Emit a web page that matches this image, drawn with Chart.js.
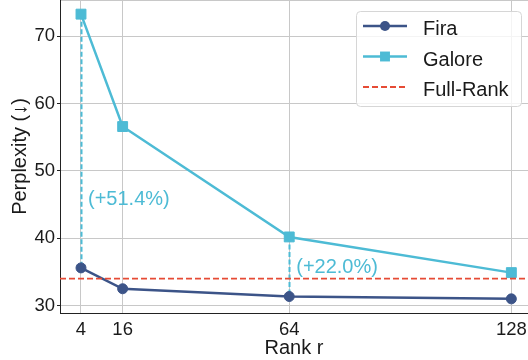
<!DOCTYPE html>
<html>
<head>
<meta charset="utf-8">
<script src="https://cdn.jsdelivr.net/npm/chart.js@4"></script>
<style>
  html, body { margin: 0; padding: 0; background: #fff; overflow: hidden; }
</style>
</head>
<body>
<canvas id="chart" width="528" height="360"></canvas>
<script>
// perplexity vs. rank
const ranks = [4, 16, 64, 128];
const firaPpl = [35.6, 32.5, 31.35, 31.0];
const galorePpl = [73.3, 56.6, 40.2, 34.9];
const fullRankPpl = 34.0;
const yTicks = [30, 40, 50, 60, 70];
// ranks where the Galore-vs-Fira gap gets a label, and the height of that label
const gapRanks = [4, 64];
const gapLabelY = [45.7, 35.7];

const FONT = '"Liberation Sans", Arial, sans-serif';
const C_FIRA = '#3C5488';
const C_GALORE = '#4DBBD5';
const C_FULL = '#E64B35';
const INK = '#1a1a1a';

const toXY = vals => ranks.map((r, i) => ({ x: r, y: vals[i] }));

const refLines = {
  id: 'refLines',
  beforeDatasetsDraw(chart) {
    const { ctx, scales: { x, y } } = chart;
    ctx.save();
    ctx.strokeStyle = C_GALORE;
    ctx.lineWidth = 2;
    ctx.setLineDash([5, 2.5]);
    gapRanks.forEach(r => {
      const i = ranks.indexOf(r);
      const px = Math.round(x.getPixelForValue(r)) + 0.5;
      ctx.beginPath();
      ctx.moveTo(px, y.getPixelForValue(galorePpl[i]));
      ctx.lineTo(px, y.getPixelForValue(firaPpl[i]));
      ctx.stroke();
    });
    ctx.restore();
  },
  afterDatasetsDraw(chart) {
    const { ctx, chartArea, scales: { x, y } } = chart;
    ctx.save();
    // full-rank baseline
    const py = y.getPixelForValue(fullRankPpl);
    ctx.strokeStyle = C_FULL;
    ctx.lineWidth = 1.8;
    ctx.setLineDash([6, 3]);
    ctx.beginPath();
    ctx.moveTo(chartArea.left, py);
    ctx.lineTo(chartArea.right, py);
    ctx.stroke();
    // relative gap labels
    ctx.setLineDash([]);
    ctx.fillStyle = C_GALORE;
    ctx.font = '20px ' + FONT;
    ctx.textAlign = 'left';
    ctx.textBaseline = 'middle';
    gapRanks.forEach((r, k) => {
      const i = ranks.indexOf(r);
      const pct = (galorePpl[i] - firaPpl[i]) / galorePpl[i] * 100;
      ctx.fillText('(+' + pct.toFixed(1) + '%)', x.getPixelForValue(r) + 7, y.getPixelForValue(gapLabelY[k]));
    });
    ctx.restore();
  }
};

const boxLegend = {
  id: 'boxLegend',
  afterDraw(chart) {
    const ctx = chart.ctx;
    const bx = 356, by = 11, bw = 165, bh = 95;
    ctx.save();
    ctx.beginPath();
    ctx.roundRect(bx + 0.5, by + 0.5, bw, bh, 4);
    ctx.fillStyle = 'rgba(255,255,255,0.8)';
    ctx.fill();
    ctx.strokeStyle = '#d6d6d6';
    ctx.lineWidth = 1;
    ctx.stroke();

    const entries = chart.data.datasets.map(ds => ({
      label: ds.label, color: ds.borderColor, marker: ds.pointStyle, r: ds.pointRadius
    }));
    entries.push({ label: 'Full-Rank', color: C_FULL, dashed: true });

    const x1 = 363, x2 = 407, xm = (x1 + x2) / 2;
    ctx.font = '20px ' + FONT;
    ctx.textBaseline = 'alphabetic';
    ctx.textAlign = 'left';
    entries.forEach((e, i) => {
      const cy = 26 + i * 30.5;
      ctx.strokeStyle = e.color;
      ctx.fillStyle = e.color;
      if (e.dashed) {
        ctx.lineWidth = 1.8;
        ctx.setLineDash([6, 3]);
      } else {
        ctx.lineWidth = 2.5;
        ctx.setLineDash([]);
      }
      ctx.beginPath();
      ctx.moveTo(x1, cy);
      ctx.lineTo(x2, cy);
      ctx.stroke();
      ctx.setLineDash([]);
      if (e.marker === 'circle') {
        ctx.beginPath();
        ctx.arc(xm, cy, e.r, 0, Math.PI * 2);
        ctx.fill();
      } else if (e.marker === 'rect') {
        const s = e.r * Math.SQRT1_2;
        ctx.fillRect(xm - s, cy - s, 2 * s, 2 * s);
      }
      ctx.fillStyle = INK;
      ctx.fillText(e.label, 423, cy + 9);
    });
    ctx.restore();
  }
};

new Chart(document.getElementById('chart'), {
  type: 'line',
  data: {
    datasets: [
      {
        label: 'Fira',
        data: toXY(firaPpl),
        borderColor: C_FIRA,
        backgroundColor: C_FIRA,
        borderWidth: 2.5,
        pointStyle: 'circle',
        pointRadius: 5,
        pointBorderWidth: 1
      },
      {
        label: 'Galore',
        data: toXY(galorePpl),
        borderColor: C_GALORE,
        backgroundColor: C_GALORE,
        borderWidth: 2.5,
        pointStyle: 'rect',
        pointRadius: 7,
        pointBorderWidth: 1
      }
    ]
  },
  options: {
    responsive: false,
    animation: false,
    layout: { padding: 0, autoPadding: false },
    plugins: {
      legend: { display: false },
      tooltip: { enabled: false }
    },
    scales: {
      x: {
        type: 'linear',
        min: -2.05,
        max: 132.8,
        afterBuildTicks: s => { s.ticks = ranks.map(v => ({ value: v })); },
        afterFit: s => {
          s.height = 47;
          s.paddingLeft = 0; s.paddingRight = 0;
        },
        ticks: {
          color: INK,
          font: { family: FONT, size: 18.5 },
          padding: 3,
          maxRotation: 0,
          callback: v => v
        },
        grid: { color: '#c8c8c8', lineWidth: 1, tickLength: 3, tickColor: 'rgba(0,0,0,0)' },
        border: { display: true, color: '#222', width: 1 },
        title: {
          display: true,
          text: 'Rank r',
          color: INK,
          font: { family: FONT, size: 20 },
          padding: { top: 0, bottom: 0 }
        }
      },
      y: {
        type: 'linear',
        min: 28.9,
        max: 75.4,
        afterBuildTicks: s => { s.ticks = yTicks.concat([s.max]).map(v => ({ value: v })); },
        afterFit: s => {
          s.width = 60;
          s.paddingTop = 0; s.paddingBottom = 0;
        },
        ticks: {
          color: INK,
          font: { family: FONT, size: 18.5 },
          padding: 2,
          callback: v => (yTicks.includes(v) ? v : '')
        },
        grid: {
          color: '#c8c8c8',
          lineWidth: 1,
          tickLength: 3,
          tickColor: c => (c.tick && yTicks.includes(c.tick.value) ? '#222' : 'rgba(0,0,0,0)')
        },
        border: { display: true, color: '#222', width: 1 },
        title: {
          display: true,
          text: 'Perplexity (↓)',
          color: INK,
          font: { family: FONT, size: 20 },
          padding: { top: 8, bottom: 0 }
        }
      }
    }
  },
  plugins: [refLines, boxLegend]
});
</script>
</body>
</html>
